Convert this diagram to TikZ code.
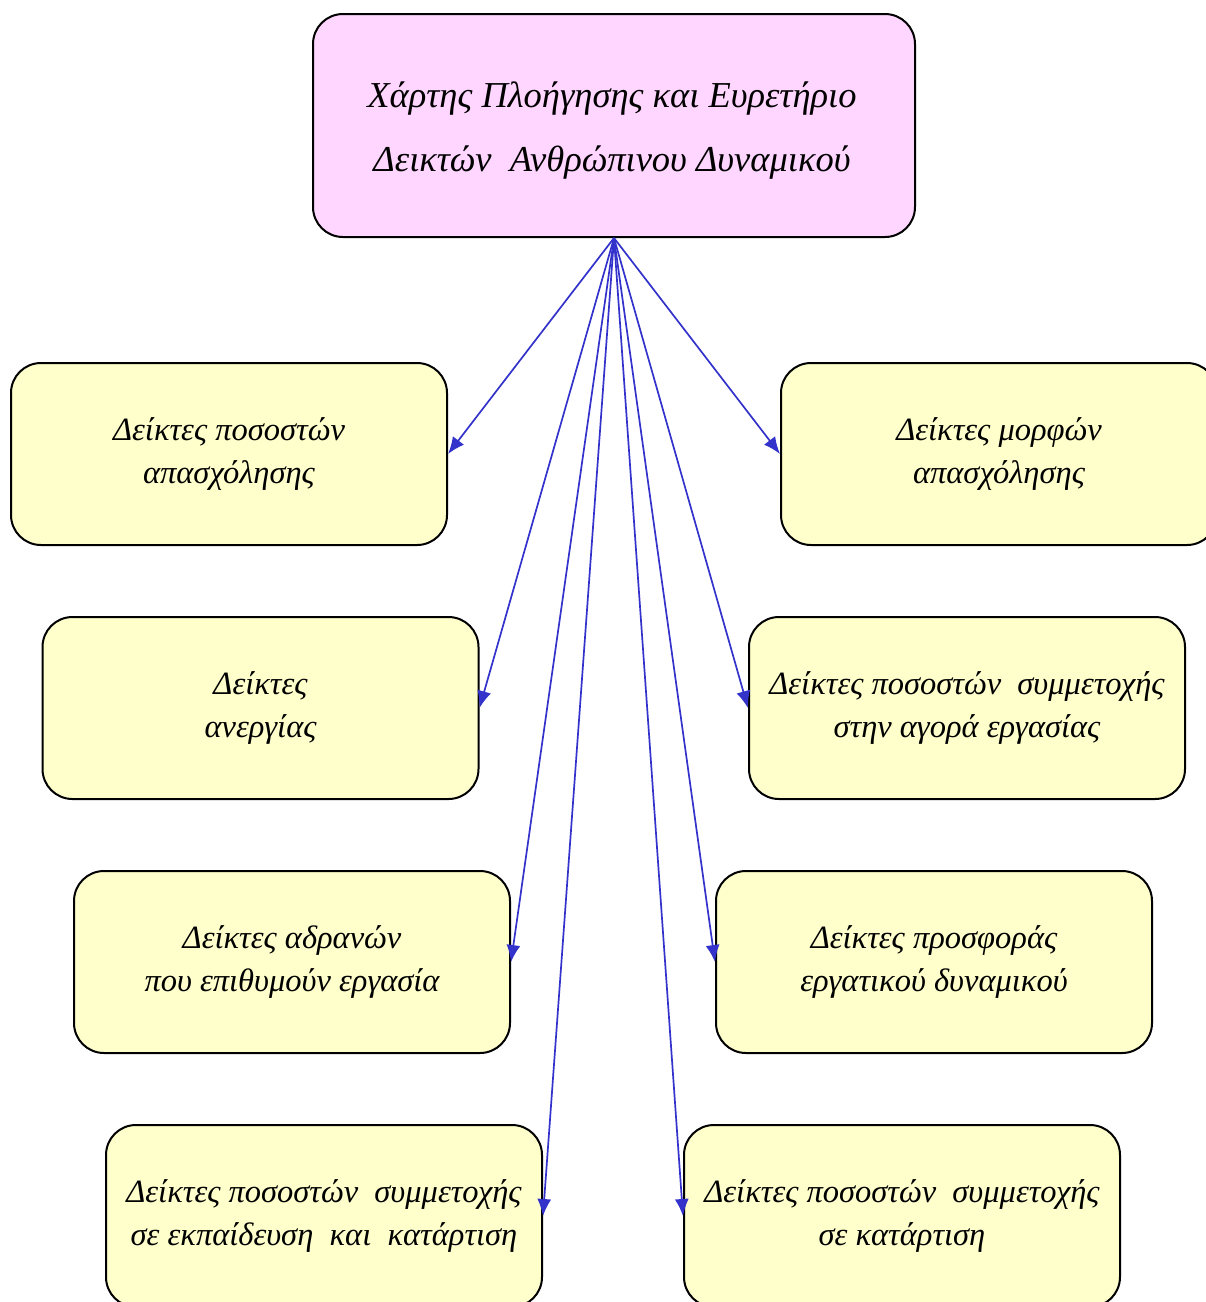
\documentclass[tikz,border=0pt]{standalone}
\usepackage{fontspec}
\setmainfont{Liberation Serif}
\usetikzlibrary{arrows.meta}
\definecolor{pinkfill}{HTML}{FFD6FF}
\definecolor{yellowfill}{HTML}{FFFFCC}
\definecolor{arrowblue}{HTML}{3333CC}
\begin{document}
\begin{tikzpicture}[x=1pt,y=-1pt,
  box/.style={draw=black, line width=2pt, rounded corners=30pt, fill=yellowfill,
    minimum width=436pt, minimum height=182pt, align=center, inner sep=0pt,
    font=\itshape\fontsize{32.5}{43}\selectfont},
  titlebox/.style={draw=black, line width=2pt, rounded corners=30pt, fill=pinkfill,
    minimum width=602pt, minimum height=223pt, inner sep=0pt},
  titletext/.style={align=center, inner sep=0pt, font=\itshape\fontsize{36.5}{64}\selectfont},
  link/.style={draw=arrowblue, line width=1.7pt, -{Latex[length=17pt,width=14pt]}}]
\useasboundingbox (0,0) rectangle (1206,1302);
\begin{scope}
\clip (0,0) rectangle (1206,1302);
\node[titlebox] (top) at (614,125.5) {};
\node[titletext] (toptext) at (612,131) {Χάρτης Πλοήγησης και Ευρετήριο\\ Δεικτών\ \ Ανθρώπινου Δυναμικού};
\node[box] (l1) at (229,454) {Δείκτες ποσοστών\\ απασχόλησης};
\node[box] (l2) at (260.5,708) {Δείκτες\\ ανεργίας};
\node[box] (l3) at (292,962) {Δείκτες αδρανών\\ που επιθυμούν εργασία};
\node[box] (l4) at (324,1216) {Δείκτες ποσοστών\ \ συμμετοχής\\ σε εκπαίδευση\ \ και\ \ κατάρτιση};
\node[box] (r1) at (999,454) {Δείκτες μορφών\\ απασχόλησης};
\node[box] (r2) at (967,708) {Δείκτες ποσοστών\ \ συμμετοχής\\ στην αγορά εργασίας};
\node[box] (r3) at (934,962) {Δείκτες προσφοράς\\ εργατικού δυναμικού};
\node[box] (r4) at (902,1216) {Δείκτες ποσοστών\ \ συμμετοχής\\ σε κατάρτιση};
\foreach \n in {l1,l2,l3,l4} \draw[link] (top.south) -- (\n.east);
\foreach \n in {r1,r2,r3,r4} \draw[link] (top.south) -- (\n.west);
\end{scope}
\end{tikzpicture}
\end{document}
